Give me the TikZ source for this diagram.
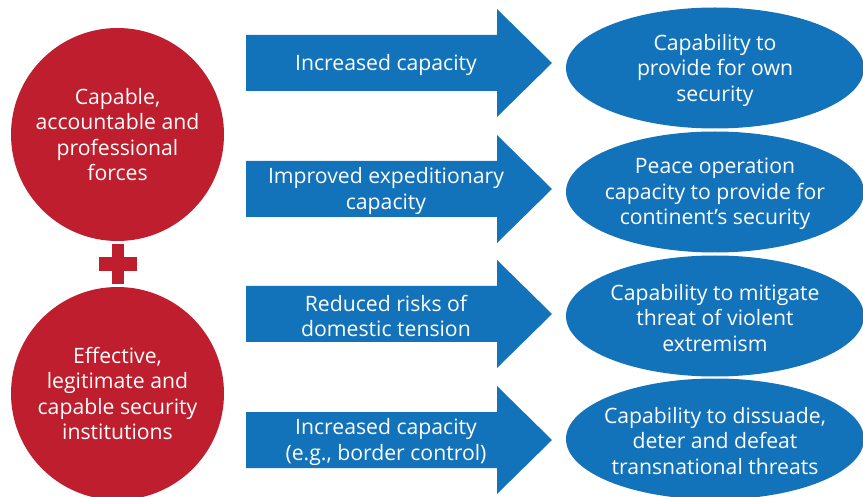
\documentclass[tikz,border=0pt]{standalone}
\usepackage{fontspec}
\setmainfont{Open Sans}
\usetikzlibrary{shapes.geometric}
\definecolor{cred}{RGB}{190,30,45}
\definecolor{cblue}{RGB}{19,115,186}
\tikzset{
  redcirc/.style={circle, fill=cred, minimum size=213pt, inner sep=0pt},
  blueell/.style={ellipse, fill=cblue, minimum width=298pt, minimum height=121pt, inner sep=0pt},
  wtext/.style={text=white, align=center, inner sep=0pt, font=\fontsize{21.2}{25.5}\selectfont},
  btext/.style={wtext, yshift=-2pt},
  arrowbody/.style={fill=cblue},
  plusbar/.style={fill=cred},
}
\newcommand\bigarrow[1]{%
  \path[arrowbody] (246,#1-28) -- (497,#1-28) -- (497,#1-54) -- (552,#1) -- (497,#1+54) -- (497,#1+28) -- (246,#1+28) -- cycle;}
\begin{document}
\begin{tikzpicture}[x=1pt,y=-1pt]
\useasboundingbox (0,0) rectangle (863,497);
\begin{scope}
\clip (0,0) rectangle (863,497);
% circles
\node[redcirc] (c1) at (117.5,134.5) {};
\node[wtext] (c1t) at (c1) {Capable,\\accountable and\\professional\\forces};
\node[redcirc] (c2) at (117.5,393.5) {};
\node[wtext] (c2t) at (c2) {Effective,\\legitimate and\\capable security\\institutions};
% plus
\path[plusbar] (112,244) rectangle (124,284);
\path[plusbar] (99,257) rectangle (137,271);
% arrows
\bigarrow{63}
\bigarrow{189}
\bigarrow{314}
\bigarrow{440}
\node[btext] (a1) at (386,63) {Increased capacity};
\node[btext] (a2) at (386,189) {Improved expeditionary\\capacity};
\node[btext] (a3) at (386,314) {Reduced risks of\\domestic tension};
\node[btext] (a4) at (386,440) {Increased capacity\\(e.g., border control)};
% ellipses
\node[blueell] (e1) at (715,68) {};
\node[btext] (e1t) at (e1) {Capability to\\provide for own\\security};
\node[blueell] (e2) at (715,192) {};
\node[btext] (e2t) at (e2) {Peace operation\\capacity to provide for\\continent’s security};
\node[blueell] (e3) at (715,316) {};
\node[btext] (e3t) at (e3) {Capability to mitigate\\threat of violent\\extremism};
\node[blueell] (e4) at (715,439) {};
\node[btext] (e4t) at (e4) {Capability to dissuade,\\deter and defeat\\transnational threats};
\end{scope}
\end{tikzpicture}
\end{document}
